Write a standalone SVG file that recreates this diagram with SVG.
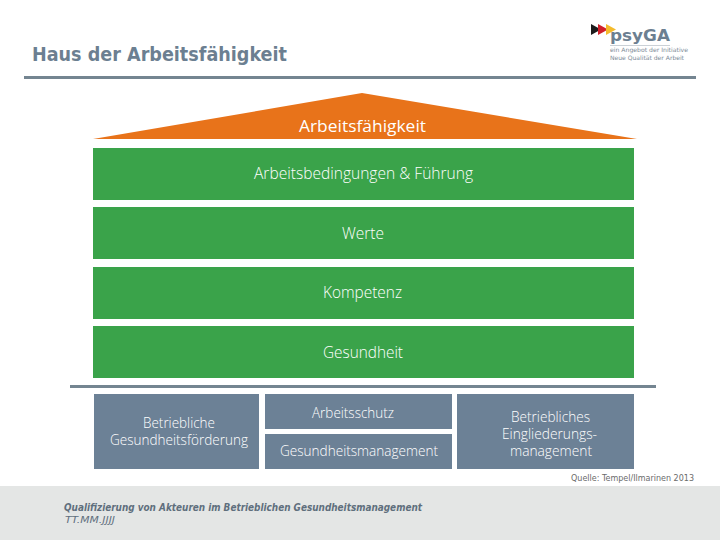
<svg xmlns="http://www.w3.org/2000/svg" width="720" height="540" viewBox="0 0 720 540">
<style>
text{font-family:"DejaVu Sans","Liberation Sans",sans-serif}
.g{fill:#3aa34a}
.b{fill:#6c8196}
.t,.s{fill:#fff;font-family:"Open Sans","DejaVu Sans",sans-serif;font-weight:300;lengthAdjust:spacingAndGlyphs}
.t{font-size:15.500px}
.s{font-size:14.500px}
.r{fill:#748591}
</style>
<rect width="720" height="540" fill="#fff"/>
<text x="32" y="60.500" font-size="19.500" font-weight="700" fill="#6c7f91" textLength="255" lengthAdjust="spacingAndGlyphs">Haus der Arbeitsfähigkeit</text>
<g id="logo">
<polygon points="591,24 601,29.500 591,35" fill="#1c1c1c"/>
<polygon points="598,24 608,29.500 598,35" fill="#d0202a"/>
<polygon points="606,24 616,29.500 606,35" fill="#f4bb2c"/>
<text x="610" y="41" font-size="15" font-weight="700" fill="#6c7f91" textLength="60" lengthAdjust="spacingAndGlyphs">psyGA</text>
<rect x="610" y="45" width="60" height="0.700" fill="#b5bec6"/>
<text x="610" y="52" font-size="6" fill="#7d8b98" textLength="78" lengthAdjust="spacingAndGlyphs">ein Angebot der Initiative</text>
<text x="610" y="60" font-size="6" fill="#7d8b98" textLength="74" lengthAdjust="spacingAndGlyphs">Neue Qualität der Arbeit</text>
</g>
<rect class="r" x="24" y="76" width="672" height="3"/>
<g id="roof">
<polygon points="93,139 362,93 637,139" fill="#e8731a"/>
<text class="t" x="299" y="132" textLength="127" lengthAdjust="spacingAndGlyphs" style="font-weight:400">Arbeitsfähigkeit</text>
</g>
<g id="arbeitsbedingungen"><rect class="g" x="93" y="148" width="541" height="52"/><text class="t" x="254" y="179" textLength="219" lengthAdjust="spacingAndGlyphs">Arbeitsbedingungen &amp; Führung</text></g>
<g id="werte"><rect class="g" x="93" y="207" width="541" height="52"/><text class="t" x="342" y="239" textLength="42" lengthAdjust="spacingAndGlyphs">Werte</text></g>
<g id="kompetenz"><rect class="g" x="93" y="267" width="541" height="52"/><text class="t" x="323" y="298" textLength="79" lengthAdjust="spacingAndGlyphs">Kompetenz</text></g>
<g id="gesundheit"><rect class="g" x="93" y="326" width="541" height="52"/><text class="t" x="323" y="358" textLength="80" lengthAdjust="spacingAndGlyphs">Gesundheit</text></g>
<rect class="r" x="70" y="385" width="586" height="3"/>
<g id="bgf"><rect class="b" x="94" y="394" width="165" height="75"/><text class="s" x="143" y="428" textLength="72" lengthAdjust="spacingAndGlyphs">Betriebliche</text><text class="s" x="110" y="445" textLength="138" lengthAdjust="spacingAndGlyphs">Gesundheitsförderung</text></g>
<g id="arbeitsschutz"><rect class="b" x="265" y="394" width="187" height="35"/><text class="s" x="312" y="418" textLength="82" lengthAdjust="spacingAndGlyphs">Arbeitsschutz</text></g>
<g id="gesundheitsmanagement"><rect class="b" x="265" y="434" width="187" height="35"/><text class="s" x="280" y="456" textLength="158" lengthAdjust="spacingAndGlyphs">Gesundheitsmanagement</text></g>
<g id="bem"><rect class="b" x="457" y="394" width="177" height="75"/><text class="s" x="511" y="422" textLength="79" lengthAdjust="spacingAndGlyphs">Betriebliches</text><text class="s" x="502" y="439" textLength="95" lengthAdjust="spacingAndGlyphs">Eingliederungs-</text><text class="s" x="510" y="456" textLength="82" lengthAdjust="spacingAndGlyphs">management</text></g>
<text x="571" y="481" font-size="9" fill="#6b6b6b" textLength="123" lengthAdjust="spacingAndGlyphs">Quelle: Tempel/Ilmarinen 2013</text>
<rect y="486" width="720" height="54" fill="#e4e6e5"/>
<text x="64" y="511" font-size="10" font-weight="700" font-style="italic" fill="#5f6f7d" textLength="358" lengthAdjust="spacingAndGlyphs">Qualifizierung von Akteuren im Betrieblichen Gesundheitsmanagement</text>
<text x="65" y="523" font-size="9.500" font-style="italic" fill="#5f6f7d" textLength="50" lengthAdjust="spacingAndGlyphs">TT.MM.JJJJ</text>
</svg>
